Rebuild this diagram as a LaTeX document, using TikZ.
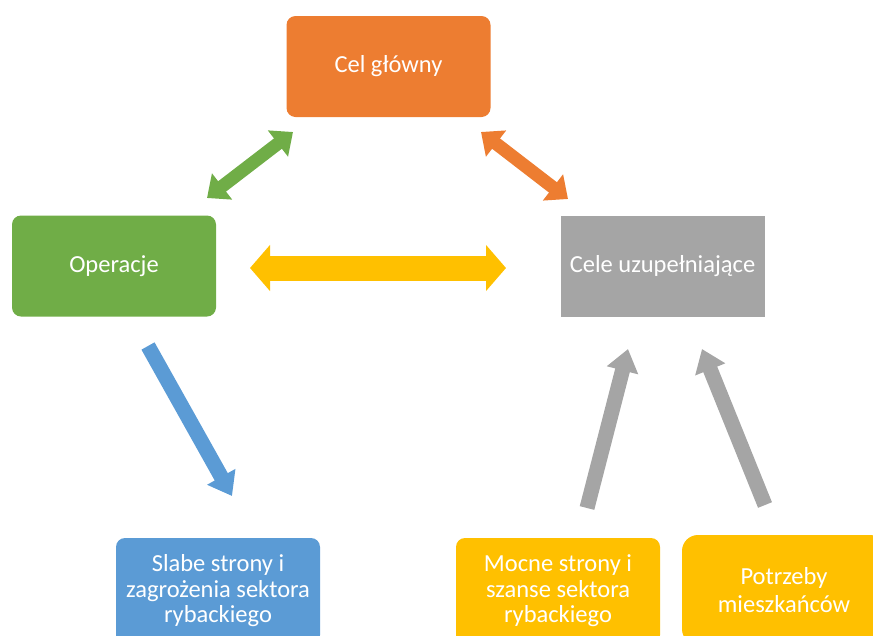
\documentclass[tikz,border=0pt]{standalone}
\usepackage{fontspec}
\setmainfont{Carlito}
\usetikzlibrary{arrows.meta}
\definecolor{corange}{HTML}{ED7D31}
\definecolor{cgreen}{HTML}{70AD47}
\definecolor{cgray}{HTML}{A5A5A5}
\definecolor{cyellow}{HTML}{FFC000}
\definecolor{cblue}{HTML}{5B9BD5}
\begin{document}
\begin{tikzpicture}[x=1pt,y=-1pt,
  box/.style={draw=none, text=white, align=center, inner sep=0pt,
    minimum width=204pt, font=\fontsize{24.5}{25.5}\selectfont},
  toprow/.style={box, minimum height=101pt},
  botrow/.style={box, minimum height=106pt, rounded corners=9pt},
  dbl/.style={line width=13pt, {Triangle[width=32pt,length=19pt]}-{Triangle[width=32pt,length=19pt]}},
  single/.style={line width=15pt, -{Triangle[width=31pt,length=22pt]}}
]
\useasboundingbox (0,0) rectangle (873,635);
% boxes
\node[toprow, fill=corange, rounded corners=9pt] (main) at (388.5,66.5) {Cel główny};
\node[toprow, fill=cgreen, rounded corners=9pt] (oper) at (114,266) {Operacje};
\node[toprow, fill=cgray] (uzup) at (662.5,266) {Cele uzupełniające};
\node[botrow, fill=cblue] (slabe) at (218,591) {Slabe strony i\\zagrożenia sektora\\rybackiego};
\node[botrow, fill=cyellow] (mocne) at (558,591) {Mocne strony i\\szanse sektora\\rybackiego};
\node[botrow, fill=cyellow, rounded corners=16pt, minimum height=110pt, font=\fontsize{24.5}{28}\selectfont] (potrz) at (784,590) {Potrzeby\\mieszkańców};
% arrow end points
\coordinate (g1) at (207,198); \coordinate (g2) at (293,132);
\coordinate (o1) at (481,132); \coordinate (o2) at (568,199);
\coordinate (y1) at (250,268); \coordinate (y2) at (506,268);
\coordinate (b1) at (148,346); \coordinate (b2) at (232,496);
\coordinate (s1) at (587,508); \coordinate (s2) at (628,349);
\coordinate (t1) at (765,505); \coordinate (t2) at (702,349);
% arrows
\draw[dbl, draw=cgreen, fill=cgreen] (g1) -- (g2);
\draw[dbl, draw=corange, fill=corange] (o1) -- (o2);
\draw[draw=cyellow, fill=cyellow, line width=25pt, {Triangle[width=45pt,length=20pt]}-{Triangle[width=45pt,length=20pt]}] (y1) -- (y2);
\draw[single, draw=cblue, fill=cblue] (b1) -- (b2);
\draw[single, draw=cgray, fill=cgray] (s1) -- (s2);
\draw[single, draw=cgray, fill=cgray] (t1) -- (t2);
\end{tikzpicture}
\end{document}
